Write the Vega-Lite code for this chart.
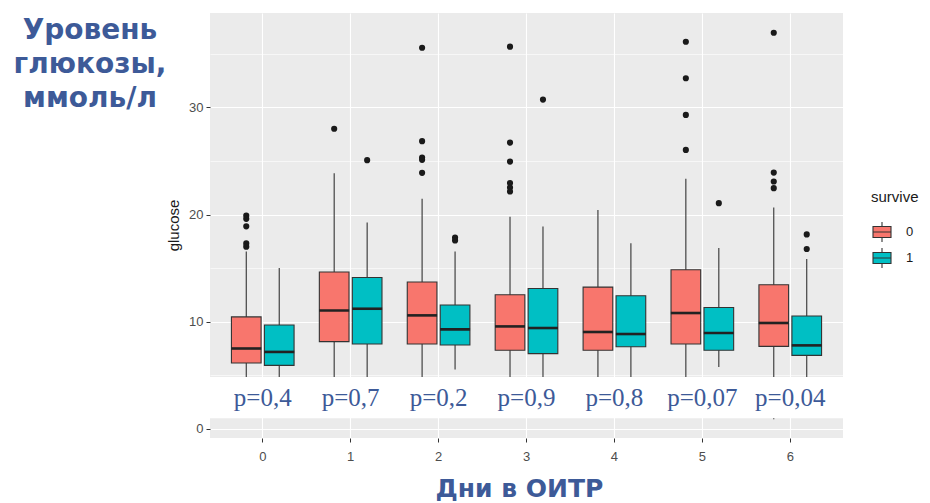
{
  "$schema": "https://vega.github.io/schema/vega-lite/v6.json",
  "autosize": {"type": "none"},
  "width": 633,
  "height": 425,
  "padding": {"left": 210, "top": 13, "right": 87, "bottom": 65},
  "background": "white",
  "title": {
    "text": ["Уровень", "глюкозы,", "ммоль/л"],
    "orient": "top",
    "anchor": "start",
    "frame": "group",
    "align": "center",
    "baseline": "top",
    "dx": -120,
    "dy": 100,
    "offset": 0,
    "font": "DejaVu Sans",
    "fontSize": 28,
    "fontWeight": "bold",
    "lineHeight": 34,
    "color": "#3D5A98"
  },
  "config": {
    "view": {"fill": "#EBEBEB", "stroke": null},
    "axis": {
      "domain": false,
      "labelFont": "Liberation Sans",
      "labelFontSize": 13,
      "labelColor": "#4D4D4D",
      "tickColor": "#333333",
      "tickSize": 4,
      "gridColor": "white"
    },
    "legend": {
      "titleFont": "Liberation Sans",
      "labelFont": "Liberation Sans"
    }
  },
  "datasets": {
    "stats": [
      {"day": "0", "survive": "0", "lower": 3.5, "q1": 6.15, "median": 7.5, "q3": 10.45, "upper": 16.55},
      {"day": "0", "survive": "1", "lower": 3.8, "q1": 5.93, "median": 7.18, "q3": 9.69, "upper": 15.0},
      {"day": "1", "survive": "0", "lower": 3.5, "q1": 8.14, "median": 11.05, "q3": 14.63, "upper": 23.86},
      {"day": "1", "survive": "1", "lower": 3.7, "q1": 7.92, "median": 11.21, "q3": 14.13, "upper": 19.26},
      {"day": "2", "survive": "0", "lower": 3.5, "q1": 7.92, "median": 10.59, "q3": 13.7, "upper": 21.46},
      {"day": "2", "survive": "1", "lower": 5.53, "q1": 7.83, "median": 9.28, "q3": 11.56, "upper": 16.55},
      {"day": "3", "survive": "0", "lower": 3.5, "q1": 7.33, "median": 9.56, "q3": 12.52, "upper": 19.8},
      {"day": "3", "survive": "1", "lower": 3.9, "q1": 7.02, "median": 9.41, "q3": 13.1, "upper": 18.88},
      {"day": "4", "survive": "0", "lower": 3.5, "q1": 7.33, "median": 9.04, "q3": 13.23, "upper": 20.41},
      {"day": "4", "survive": "1", "lower": 4.0, "q1": 7.67, "median": 8.85, "q3": 12.42, "upper": 17.33},
      {"day": "5", "survive": "0", "lower": 3.5, "q1": 7.92, "median": 10.81, "q3": 14.85, "upper": 23.33},
      {"day": "5", "survive": "1", "lower": 5.78, "q1": 7.33, "median": 8.95, "q3": 11.33, "upper": 16.87},
      {"day": "6", "survive": "0", "lower": 0.9, "q1": 7.7, "median": 9.88, "q3": 13.45, "upper": 20.65},
      {"day": "6", "survive": "1", "lower": 4.0, "q1": 6.86, "median": 7.79, "q3": 10.53, "upper": 15.84}
    ],
    "outliers": [
      {"day": "0", "survive": "0", "glucose": 19.9},
      {"day": "0", "survive": "0", "glucose": 19.6},
      {"day": "0", "survive": "0", "glucose": 18.9},
      {"day": "0", "survive": "0", "glucose": 17.3},
      {"day": "0", "survive": "0", "glucose": 17.0},
      {"day": "1", "survive": "0", "glucose": 28.0},
      {"day": "1", "survive": "1", "glucose": 25.07},
      {"day": "2", "survive": "0", "glucose": 35.56},
      {"day": "2", "survive": "0", "glucose": 26.84},
      {"day": "2", "survive": "0", "glucose": 25.31},
      {"day": "2", "survive": "0", "glucose": 25.1},
      {"day": "2", "survive": "0", "glucose": 23.89},
      {"day": "2", "survive": "1", "glucose": 17.85},
      {"day": "2", "survive": "1", "glucose": 17.58},
      {"day": "3", "survive": "0", "glucose": 35.66},
      {"day": "3", "survive": "0", "glucose": 26.71},
      {"day": "3", "survive": "0", "glucose": 24.94},
      {"day": "3", "survive": "0", "glucose": 22.93},
      {"day": "3", "survive": "0", "glucose": 22.52},
      {"day": "3", "survive": "0", "glucose": 22.15},
      {"day": "3", "survive": "1", "glucose": 30.72},
      {"day": "5", "survive": "0", "glucose": 36.12},
      {"day": "5", "survive": "0", "glucose": 32.71},
      {"day": "5", "survive": "0", "glucose": 29.29},
      {"day": "5", "survive": "0", "glucose": 26.03},
      {"day": "5", "survive": "1", "glucose": 21.06},
      {"day": "6", "survive": "0", "glucose": 36.96},
      {"day": "6", "survive": "0", "glucose": 23.91},
      {"day": "6", "survive": "0", "glucose": 23.08},
      {"day": "6", "survive": "0", "glucose": 22.46},
      {"day": "6", "survive": "1", "glucose": 18.14},
      {"day": "6", "survive": "1", "glucose": 16.78}
    ],
    "pvals": [
      {"day": "0", "label": "p=0,4"},
      {"day": "1", "label": "p=0,7"},
      {"day": "2", "label": "p=0,2"},
      {"day": "3", "label": "p=0,9"},
      {"day": "4", "label": "p=0,8"},
      {"day": "5", "label": "p=0,07"},
      {"day": "6", "label": "p=0,04"}
    ]
  },
  "layer": [
    {
      "data": {"name": "stats"},
      "mark": {"type": "rule", "color": "#333333", "strokeWidth": 1.1},
      "encoding": {
        "x": {
          "field": "day", "type": "nominal",
          "scale": {"paddingInner": 0.25, "paddingOuter": 0.225},
          "axis": {
            "labelAngle": 0,
            "bandPosition": 0.5,
            "grid": true,
            "gridWidth": 1.1,
            "labelPadding": 8,
            "title": "Дни в ОИТР",
            "titleFont": "DejaVu Sans",
            "titleFontWeight": "bold",
            "titleFontSize": 25,
            "titleColor": "#3D5A98",
            "titleBaseline": "alphabetic",
            "titleAlign": "center",
            "titleX": 309,
            "titleY": 58
          }
        },
        "xOffset": {
          "field": "survive", "type": "nominal",
          "scale": {"paddingInner": 0.1, "paddingOuter": 0.05}
        },
        "y": {
          "field": "lower", "type": "quantitative",
          "scale": {"domain": [-0.85, 38.8], "nice": false, "zero": false},
          "axis": {
            "values": [0, 5, 10, 15, 20, 25, 30, 35],
            "labelExpr": "datum.value % 10 === 0 ? datum.label : ''",
            "tickOpacity": {"condition": {"test": "datum.value % 10 !== 0", "value": 0}, "value": 1},
            "gridWidth": {"condition": {"test": "datum.value % 10 !== 0", "value": 0.6}, "value": 1.1},
            "labelPadding": 3,
            "title": "glucose",
            "titleFont": "Liberation Sans",
            "titleFontSize": 15,
            "titleFontWeight": "normal",
            "titleColor": "#1A1A1A",
            "titleX": -37,
            "titleY": 212,
            "titleAlign": "center",
            "titleBaseline": "middle"
          }
        },
        "y2": {"field": "upper"}
      }
    },
    {
      "data": {"name": "stats"},
      "mark": {"type": "bar", "stroke": "#333333", "strokeWidth": 1.1},
      "encoding": {
        "x": {"field": "day", "type": "nominal"},
        "xOffset": {"field": "survive", "type": "nominal"},
        "y": {"field": "q1", "type": "quantitative"},
        "y2": {"field": "q3"},
        "fill": {
          "field": "survive", "type": "nominal",
          "scale": {"range": ["#F8766D", "#00BFC4"]},
          "legend": {
            "title": "survive",
            "orient": "none",
            "legendX": 661,
            "legendY": 177,
            "titleFontSize": 15,
            "titleFontWeight": "normal",
            "titleColor": "#1A1A1A",
            "titlePadding": 16,
            "labelFontSize": 13,
            "labelColor": "#1A1A1A",
            "labelOffset": 13,
            "symbolType": "M-0.9,-0.55H0.9V0.55H-0.9Z M-0.9,0H0.9 M0,-0.55V-1 M0,0.55V1",
            "symbolSize": 400,
            "symbolStrokeColor": "#333333",
            "symbolStrokeWidth": 1.1,
            "symbolOpacity": 1,
            "rowPadding": 0
          }
        }
      }
    },
    {
      "data": {"name": "stats"},
      "mark": {"type": "tick", "color": "#222222", "thickness": 2.6, "size": 30, "opacity": 1},
      "encoding": {
        "x": {"field": "day", "type": "nominal"},
        "xOffset": {"field": "survive", "type": "nominal"},
        "y": {"field": "median", "type": "quantitative"}
      }
    },
    {
      "data": {"name": "outliers"},
      "mark": {"type": "point", "filled": true, "color": "#1A1A1A", "size": 38, "opacity": 1},
      "encoding": {
        "x": {"field": "day", "type": "nominal"},
        "xOffset": {"field": "survive", "type": "nominal"},
        "y": {"field": "glucose", "type": "quantitative"}
      }
    },
    {
      "data": {"values": [{}]},
      "mark": {"type": "rect", "color": "white", "opacity": 1},
      "encoding": {
        "y": {"datum": 4.85, "type": "quantitative"},
        "y2": {"datum": 1.0}
      }
    },
    {
      "data": {"name": "pvals"},
      "mark": {"type": "text", "font": "Liberation Serif", "fontSize": 25, "color": "#3D5A98", "baseline": "alphabetic", "align": "center"},
      "encoding": {
        "x": {"field": "day", "type": "nominal"},
        "y": {"datum": 2.1, "type": "quantitative"},
        "text": {"field": "label"}
      }
    }
  ]
}
